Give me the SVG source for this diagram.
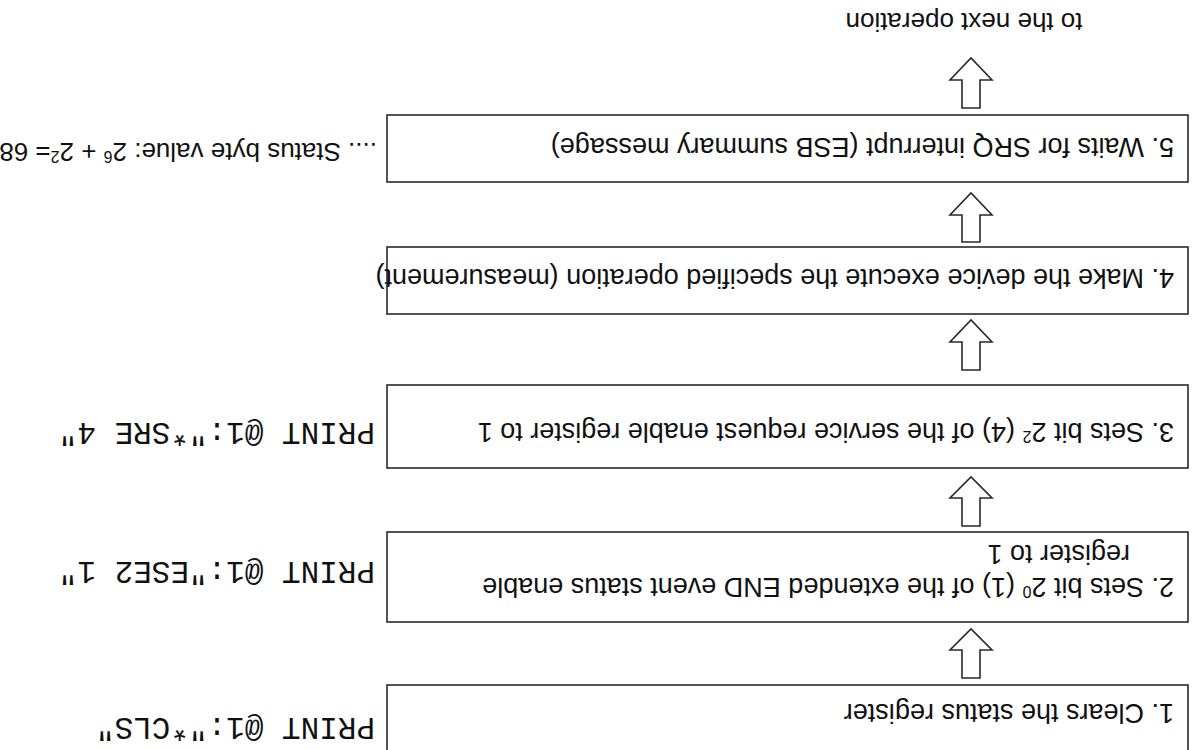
<svg xmlns="http://www.w3.org/2000/svg" width="1193" height="750" viewBox="0 0 1193 750">
  <style>
    .box { fill: #fff; stroke: #2a2a2a; stroke-width: 1.6; }
    .arrow { fill: #fff; stroke: #2a2a2a; stroke-width: 1.6; stroke-linejoin: miter; }
    .step { font-family: "Liberation Sans", Arial, sans-serif; font-size: 27px; fill: #111; }
    .cmd { font-family: "Liberation Mono", "Courier New", monospace; font-size: 31px; fill: #111; }
    .note { font-family: "Liberation Sans", Arial, sans-serif; font-size: 26px; fill: #111; }
    .sup { font-size: 16px; }
  </style>
  <rect width="1193" height="750" fill="#fff"/>
  <!-- whole flow chart is printed upside down -->
  <g transform="rotate(180 596.5 375)">
    <g id="step1">
      <rect class="box" x="5" y="-4" width="801" height="69"/>
      <text class="step" x="19" y="46">1.  Clears the status register</text>
    </g>
    <g id="step2">
      <rect class="box" x="5" y="128" width="801" height="90"/>
      <text class="step" x="19" y="172">2.  Sets bit 2<tspan class="sup" baseline-shift="super">0</tspan> (1) of the extended END event status enable</text>
      <text class="step" x="63" y="205">register to 1</text>
    </g>
    <g id="step3">
      <rect class="box" x="5" y="282" width="801" height="83"/>
      <text class="step" x="19" y="327">3.  Sets bit 2<tspan class="sup" baseline-shift="super">2</tspan> (4) of the service request enable register to 1</text>
    </g>
    <g id="step4">
      <rect class="box" x="5" y="436" width="801" height="67"/>
      <text class="step" x="19" y="481">4.  Make the device execute the specified operation (measurement)</text>
    </g>
    <g id="step5">
      <rect class="box" x="5" y="568" width="801" height="67"/>
      <text class="step" x="19" y="612">5.  Waits for SRQ interrupt (ESB summary message)</text>
    </g>
    <g id="next">
      <text class="note" x="229" y="737" text-anchor="middle">to the next operation</text>
    </g>
    <g id="commands">
      <text class="cmd" x="818" y="32">PRINT @1:"*CLS"</text>
      <text class="cmd" x="818" y="188">PRINT @1:"ESE2 1"</text>
      <text class="cmd" x="818" y="327">PRINT @1:"*SRE 4"</text>
      <text class="note" x="816" y="607" font-size="24.5">.... Status byte value: 2<tspan class="sup" baseline-shift="super">6</tspan> + 2<tspan class="sup" baseline-shift="super">2</tspan>= 68</text>
    </g>
    <g id="connectors">
      <path class="arrow" d="M213,72 H231 V100 H243 L222,121 L201,100 H213 Z"/>
      <path class="arrow" d="M213,224 H231 V252 H243 L222,273 L201,252 H213 Z"/>
      <path class="arrow" d="M213,380 H231 V408 H243 L222,430 L201,408 H213 Z"/>
      <path class="arrow" d="M213,508 H231 V535 H243 L222,557 L201,535 H213 Z"/>
      <path class="arrow" d="M213,642 H231 V670 H243 L222,692 L201,670 H213 Z"/>
    </g>
  </g>
</svg>
